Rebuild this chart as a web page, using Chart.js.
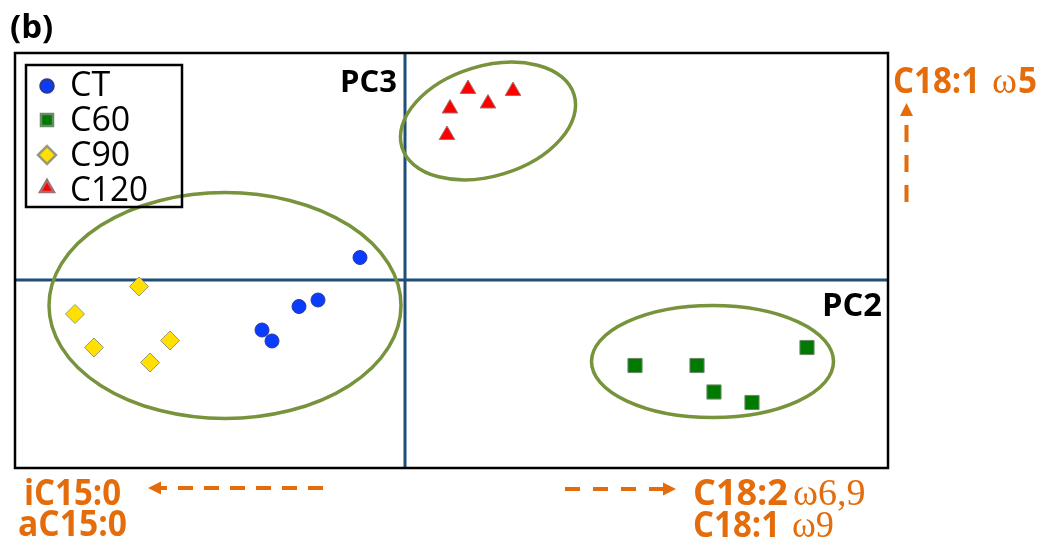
<!DOCTYPE html>
<html>
<head>
<meta charset="utf-8">
<title>PCA (b)</title>
<script src="https://cdn.jsdelivr.net/npm/chart.js@4/dist/chart.umd.min.js"></script>
<style>
  html, body { margin: 0; padding: 0; background: #ffffff; }
  canvas { display: block; }
</style>
</head>
<body>
<canvas id="pcaChart" width="1041" height="543"></canvas>
<script>
// ====================================
// DATA (PC2 score, PC3 score)
// ====================================
const groupNames = ["CT", "C60", "C90", "C120"];

const ctScores = [
  { x: -0.45, y: 0.45 },
  { x: -0.87, y: -0.40 },
  { x: -1.06, y: -0.53 },
  { x: -1.43, y: -1.00 },
  { x: -1.33, y: -1.22 },
];
const c60Scores = [
  { x: 2.30, y: -1.71 },
  { x: 2.92, y: -1.71 },
  { x: 3.09, y: -2.24 },
  { x: 3.47, y: -2.45 },
  { x: 4.02, y: -1.35 },
];
const c90Scores = [
  { x: -2.66, y: -0.13 },
  { x: -3.30, y: -0.68 },
  { x: -3.11, y: -1.35 },
  { x: -2.35, y: -1.21 },
  { x: -2.55, y: -1.65 },
];
const c120Scores = [
  { x: 0.63, y: 3.82 },
  { x: 0.45, y: 3.43 },
  { x: 0.83, y: 3.53 },
  { x: 1.08, y: 3.78 },
  { x: 0.42, y: 2.90 },
];

const xRange = [-3.9, 4.83];
const yRange = [-3.76, 4.54];

// group ellipses: centre, half-axes (data units), tilt in degrees
const clusterEllipses = [
  { cx: -1.80, cy: -0.51, rx: 1.76, ry: 2.26, tilt: 0 },
  { cx: 0.83, cy: 3.18, rx: 0.90, ry: 1.10, tilt: -17 },
  { cx: 3.075, cy: -1.63, rx: 1.21, ry: 1.12, tilt: 0 },
];

// ====================================
// STYLES
// ====================================
const ORANGE = "#e46c0a";
const AXIS_BLUE = "#1f4e79";
const OLIVE = "#77933c";
const SANS = "'Open Sans', 'DejaVu Sans', sans-serif";
const SERIF = "'Liberation Serif', 'DejaVu Serif', serif";

const markerStyles = [
  { pointStyle: "circle", radius: 7, fill: "#0a3cff", border: "#2a3a9a", legendRadius: 6.5 },
  { pointStyle: "rect", radius: 10, fill: "#007a00", border: "#6a8a6a", legendRadius: 8.5 },
  { pointStyle: "rectRot", radius: 9.5, fill: "#ffe000", border: "#9a9a7a", legendRadius: 9 },
  { pointStyle: "triangle", radius: 9, fill: "#ff0000", border: "#a07070", legendRadius: 8 },
];

// ====================================
// PLUGINS
// ====================================
const quadrantLines = {
  id: "quadrantLines",
  beforeDatasetsDraw(chart) {
    const { ctx, chartArea: a, scales } = chart;
    const x0 = scales.x.getPixelForValue(0);
    const y0 = scales.y.getPixelForValue(0);
    ctx.save();
    ctx.strokeStyle = AXIS_BLUE;
    ctx.lineWidth = 3;
    ctx.beginPath();
    ctx.moveTo(x0, a.top);
    ctx.lineTo(x0, a.bottom);
    ctx.moveTo(a.left, y0);
    ctx.lineTo(a.right, y0);
    ctx.stroke();

    // ellipses round each group
    ctx.strokeStyle = OLIVE;
    ctx.lineWidth = 3.5;
    clusterEllipses.forEach(function (e) {
      const cx = scales.x.getPixelForValue(e.cx);
      const cy = scales.y.getPixelForValue(e.cy);
      const rx = Math.abs(scales.x.getPixelForValue(e.cx + e.rx) - cx);
      const ry = Math.abs(scales.y.getPixelForValue(e.cy + e.ry) - cy);
      ctx.beginPath();
      ctx.ellipse(cx, cy, rx, ry, (e.tilt * Math.PI) / 180, 0, Math.PI * 2);
      ctx.stroke();
    });
    ctx.restore();
  },
};

function dashedArrow(ctx, x1, y1, x2, y2, dash) {
  // dashes run from (x1,y1) towards the head at (x2,y2)
  const len = Math.hypot(x2 - x1, y2 - y1);
  const ux = (x2 - x1) / len;
  const uy = (y2 - y1) / len;
  const head = 13;
  ctx.save();
  ctx.strokeStyle = ORANGE;
  ctx.fillStyle = ORANGE;
  ctx.lineWidth = 4;
  ctx.setLineDash(dash);
  ctx.beginPath();
  ctx.moveTo(x1, y1);
  ctx.lineTo(x2 - ux * head, y2 - uy * head);
  ctx.stroke();
  ctx.setLineDash([]);
  ctx.beginPath();
  ctx.moveTo(x2, y2);
  ctx.lineTo(x2 - ux * head - uy * 6.5, y2 - uy * head + ux * 6.5);
  ctx.lineTo(x2 - ux * head + uy * 6.5, y2 - uy * head - ux * 6.5);
  ctx.closePath();
  ctx.fill();
  ctx.restore();
}

function loadingLabel(ctx, x, y, parts) {
  // parts: [text, font, maxWidth, gapAfter]
  let cx = x;
  parts.forEach(function (p) {
    ctx.font = p[1];
    const w = Math.min(ctx.measureText(p[0]).width, p[2] || Infinity);
    ctx.fillText(p[0], cx, y, w);
    cx += w + (p[3] || 0);
  });
}

const frameAndNotes = {
  id: "frameAndNotes",
  afterDraw(chart) {
    const { ctx, chartArea: a } = chart;
    ctx.save();

    // plot frame
    ctx.strokeStyle = "#000000";
    ctx.lineWidth = 2.5;
    ctx.strokeRect(a.left, a.top, a.right - a.left, a.bottom - a.top);

    // panel letter and axis names
    ctx.fillStyle = "#000000";
    ctx.textBaseline = "alphabetic";
    ctx.font = "bold 33px " + SANS;
    ctx.textAlign = "left";
    ctx.fillText("(b)", 10, 38, 44);
    ctx.textAlign = "right";
    ctx.font = "bold 31px " + SANS;
    ctx.fillText("PC3", 397, 92, 58);
    ctx.font = "bold 33px " + SANS;
    ctx.fillText("PC2", 882, 316, 60);

    // legend box
    ctx.lineWidth = 2.5;
    ctx.strokeRect(26, 65, 156, 142);
    ctx.textAlign = "left";
    ctx.font = "34px " + SANS;
    const legendY = [86, 120, 155, 188];
    groupNames.forEach(function (name, i) {
      const m = markerStyles[i];
      ctx.fillStyle = m.fill;
      ctx.strokeStyle = m.border;
      Chart.helpers.drawPoint(ctx, {
        pointStyle: m.pointStyle,
        radius: m.legendRadius,
        rotation: 0,
        borderWidth: 1,
      }, 47, legendY[i]);
      ctx.fillStyle = "#000000";
      ctx.fillText(name, 70, 96 + 35 * i, 78);
    });

    // fatty acid loadings
    ctx.fillStyle = ORANGE;
    const bold = "bold 36px " + SANS;
    const serif = "38px " + SERIF;
    loadingLabel(ctx, 893, 93, [["C18:1", bold, 87, 12], ["ω", serif, 27, 1], ["5", bold, 19]]);
    loadingLabel(ctx, 24, 505, [["iC15:0", bold, 97]]);
    loadingLabel(ctx, 18, 536, [["aC15:0", bold, 109]]);
    loadingLabel(ctx, 693, 505, [["C18:2", bold, 95, 5], ["ω6,9", serif, 76]]);
    loadingLabel(ctx, 693, 537, [["C18:1", bold, 87, 12], ["ω9", serif, 42]]);

    dashedArrow(ctx, 906.5, 202, 906.5, 103, [17, 13]);
    dashedArrow(ctx, 323, 488, 148, 488, [15, 11]);
    dashedArrow(ctx, 565, 489, 676, 489, [15, 13]);

    ctx.restore();
  },
};

// ====================================
// CHART
// ====================================
const seriesScores = [ctScores, c60Scores, c90Scores, c120Scores];

const ctx = document.getElementById("pcaChart").getContext("2d");
new Chart(ctx, {
  type: "scatter",
  data: {
    datasets: groupNames.map(function (name, i) {
      const m = markerStyles[i];
      return {
        label: name,
        data: seriesScores[i],
        pointStyle: m.pointStyle,
        pointRadius: m.radius,
        pointHoverRadius: m.radius,
        backgroundColor: m.fill,
        borderColor: m.border,
        borderWidth: 1,
      };
    }),
  },
  options: {
    responsive: false,
    animation: false,
    layout: { padding: { left: 15, top: 53, right: 153, bottom: 75 } },
    plugins: {
      legend: { display: false },
      tooltip: { enabled: false },
    },
    scales: {
      x: { type: "linear", min: xRange[0], max: xRange[1], display: false },
      y: { type: "linear", min: yRange[0], max: yRange[1], display: false },
    },
  },
  plugins: [quadrantLines, frameAndNotes],
});
</script>
</body>
</html>
